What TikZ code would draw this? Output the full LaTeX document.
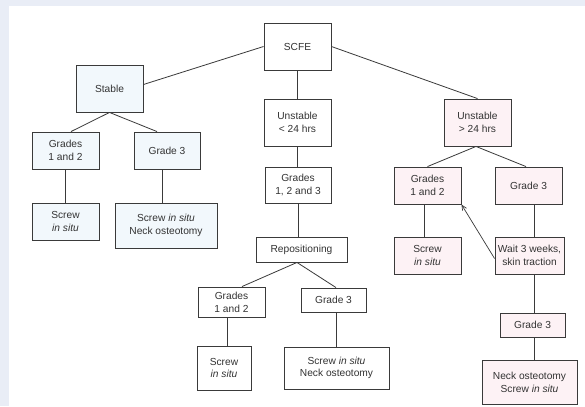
\documentclass[tikz,border=0pt]{standalone}
\usepackage{fontspec}
\setmainfont{Liberation Sans}
\usetikzlibrary{calc,arrows.meta}
\definecolor{bgband}{HTML}{E9EDF6}
\definecolor{blueFill}{HTML}{F2F8FC}
\definecolor{pinkFill}{HTML}{FDF2F5}
\definecolor{lineGray}{HTML}{3A3A3A}
\definecolor{txtGray}{HTML}{333333}
\tikzset{
  box/.style={draw=lineGray, line width=0.9bp, fill=white, inner sep=0pt,
    align=center, text=txtGray,
    font=\fontsize{10.2bp}{12.7bp}\selectfont},
  bluebox/.style={box, fill=blueFill},
  pinkbox/.style={box, fill=pinkFill},
  conn/.style={draw=lineGray, line width=0.8bp},
}
\begin{document}
\begin{tikzpicture}[x=1bp,y=-1bp]
\fill[bgband] (0,0) rectangle (585,406);
\fill[white] (9,6) rectangle (585,406);
\useasboundingbox (0,0) rectangle (585,406);

% top
\node[box, minimum width=67bp, minimum height=47bp] (scfe) at (297.5,46.5) {SCFE};

% left branch
\node[bluebox, minimum width=67bp, minimum height=47bp] (stable) at (109.5,88.5) {Stable};
\node[bluebox, minimum width=67bp, minimum height=37bp] (lg12) at (65.5,150.5) {Grades\\1 and 2};
\node[bluebox, minimum width=66bp, minimum height=37bp] (lg3) at (167,150.5) {Grade 3};
\node[bluebox, minimum width=67bp, minimum height=37bp] (ls) at (65.5,221.5) {Screw\\\textit{in situ}};
\node[bluebox, minimum width=102bp, minimum height=45bp] (lsn) at (166,225.5) {Screw \textit{in situ}\\Neck osteotomy};

% middle branch
\node[box, minimum width=67bp, minimum height=47bp] (u24) at (297.5,122.5) {Unstable\\< 24 hrs};
\node[box, minimum width=66bp, minimum height=36bp] (g123) at (298,185) {Grades\\1, 2 and 3};
\node[box, minimum width=91bp, minimum height=25bp] (rep) at (301.5,249.5) {Repositioning};
\node[box, minimum width=67bp, minimum height=30bp] (mg12) at (231.5,302) {Grades\\1 and 2};
\node[box, minimum width=65bp, minimum height=24bp] (mg3) at (333.5,300) {Grade 3};
\node[box, minimum width=54bp, minimum height=44bp] (ms) at (224,368) {Screw\\\textit{in situ}};
\node[box, minimum width=105bp, minimum height=42bp] (msn) at (336.5,368) {Screw \textit{in situ}\\Neck osteotomy};

% right branch
\node[pinkbox, minimum width=67bp, minimum height=47bp] (o24) at (477.5,122.5) {Unstable\\> 24 hrs};
\node[pinkbox, minimum width=67bp, minimum height=37bp] (rg12) at (427.5,185.5) {Grades\\1 and 2};
\node[pinkbox, minimum width=67bp, minimum height=37bp] (rg3) at (528.5,185.5) {Grade 3};
\node[pinkbox, minimum width=67bp, minimum height=37bp] (rs) at (427.5,255.5) {Screw\\\textit{in situ}};
\node[pinkbox, minimum width=69bp, minimum height=37bp] (wait) at (529.5,255.5) {Wait 3 weeks,\\skin traction};
\node[pinkbox, minimum width=65bp, minimum height=24bp] (rg3b) at (532.5,325) {Grade 3};
\node[pinkbox, minimum width=95bp, minimum height=44bp] (rn) at (529.5,382) {Neck osteotomy\\Screw \textit{in situ}};

% helper coordinates for vertical connectors
\coordinate (lv) at ($(lg3.south)+(-5,0)$);
\coordinate (mv) at ($(mg12.south)+(-4.5,0)$);
\coordinate (rv1) at ($(rg12.south)+(-3.5,0)$);
\coordinate (rv2) at ($(rg3.south)+(5.5,0)$);
\coordinate (repb) at ($(rep.south)+(-4.5,0)$);
\coordinate (o24b) at ($(o24.south)+(-1.5,0)$);

% connectors top
\draw[conn] (scfe.west) -- ($(stable.east)+(0,-4)$);
\draw[conn] (scfe.east) -- (o24.north);
\draw[conn] (scfe.south) -- (u24.north);

% left
\draw[conn] (stable.south) -- ($(lg12.north)+(5.5,0)$);
\draw[conn] (stable.south) -- ($(lg3.north)+(-10,0)$);
\draw[conn] (lg12.south) -- (ls.north);
\draw[conn] (lv) -- (lv |- lsn.north);

% middle
\draw[conn] (u24.south) -- (u24.south |- g123.north);
\draw[conn] (g123.south) -- (g123.south |- rep.north);
\draw[conn] (repb) -- ($(mg12.north)+(10.5,0)$);
\draw[conn] (repb) -- ($(mg3.north)+(2.5,0)$);
\draw[conn] (mv) -- (mv |- ms.north);
\draw[conn] (mg3.south -| msn.north) -- (msn.north);

% right
\draw[conn] (o24b) -- (rg12.north);
\draw[conn] (o24b) -- ($(rg3.north)+(-2.5,0)$);
\draw[conn] (rv1) -- (rv1 |- rs.north);
\draw[conn] (rv2) -- (rv2 |- wait.north);
\draw[conn] (rv2 |- wait.south) -- (rv2 |- rg3b.north);
\draw[conn] (rv2 |- rg3b.south) -- (rv2 |- rn.north);
\draw[conn, line width=0.7bp, -{Straight Barb[length=5bp,width=4.5bp]}] ($(wait.west)+(0,3)$) -- (rg12.south east);
\end{tikzpicture}
\end{document}
